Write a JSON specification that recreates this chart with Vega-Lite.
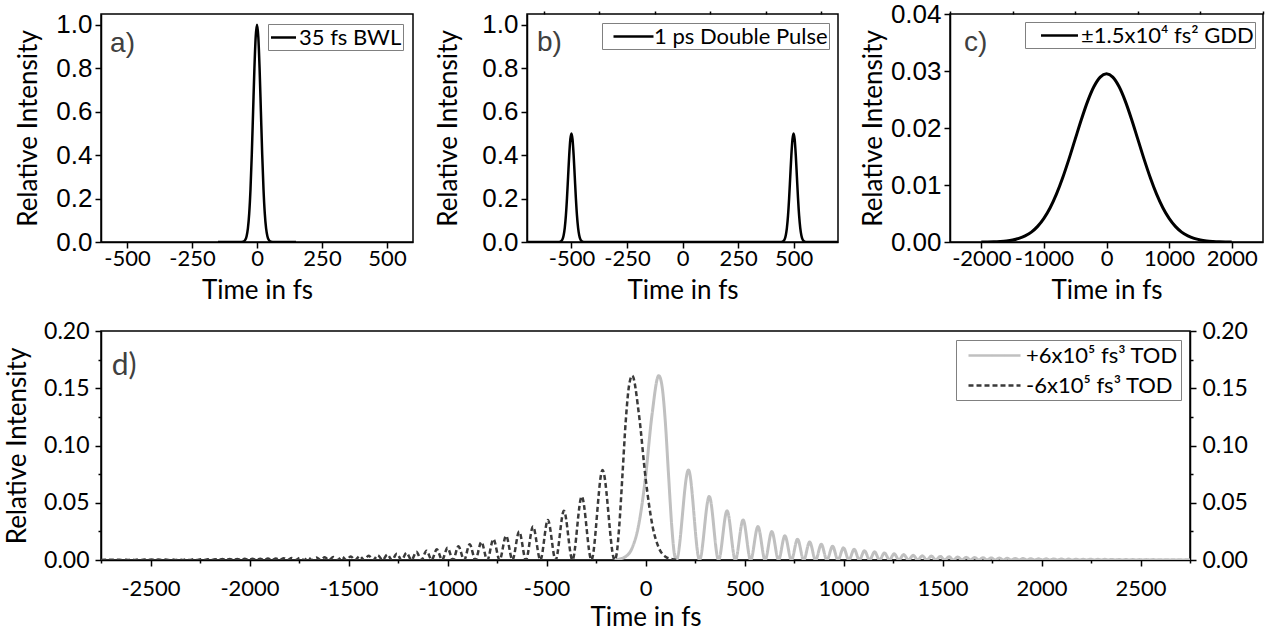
{
  "$schema": "https://vega.github.io/schema/vega-lite/v6.json",
  "background": "white",
  "padding": {"left": 3, "top": 0, "right": 4, "bottom": 4},
  "config": {
    "locale": {"number": {"decimal": ".", "thousands": "", "grouping": [3], "currency": ["", ""], "minus": "-"}},
    "view": {"stroke": "black", "strokeWidth": 1.5},
    "axis": {"domainColor": "black", "domainWidth": 1.5, "tickColor": "black", "tickWidth": 1.5, "labelColor": "black", "titleColor": "black", "titleFont": "Lato", "titleFontSize": 26, "titleFontWeight": "normal", "labelFont": "Lato", "labelFontSize": 22, "grid": false, "zindex": 1, "labelFlush": false, "labelOverlap": false},
    "legend": {"title": null, "strokeColor": "#808080", "fillColor": "white", "symbolStrokeWidth": 2.5, "symbolSize": 484, "labelFont": "Lato", "labelFontSize": 22, "labelColor": "black", "labelLimit": 400, "orient": "top-right"}
  },
  "resolve": {"scale": {"color": "independent", "strokeDash": "independent"}, "legend": {"color": "independent", "strokeDash": "independent"}},
  "datasets": {
    "bwl": [
      {"t": -150, "I": 0}, {"t": -100, "I": 0}, {"t": -80, "I": 0}, {"t": -70, "I": 0.00002}, {"t": -60, "I": 0.0003}, {"t": -55, "I": 0.001}, {"t": -50, "I": 0.0035}, {"t": -45, "I": 0.0102}, {"t": -40, "I": 0.0267}, {"t": -35, "I": 0.0625}, {"t": -30, "I": 0.1304}, {"t": -25, "I": 0.243}, {"t": -20, "I": 0.4044}, {"t": -15, "I": 0.601}, {"t": -10, "I": 0.7975}, {"t": -5, "I": 0.945}, {"t": 0, "I": 1},
      {"t": 5, "I": 0.945}, {"t": 10, "I": 0.7975}, {"t": 15, "I": 0.601}, {"t": 20, "I": 0.4044}, {"t": 25, "I": 0.243}, {"t": 30, "I": 0.1304}, {"t": 35, "I": 0.0625}, {"t": 40, "I": 0.0267}, {"t": 45, "I": 0.0102}, {"t": 50, "I": 0.0035}, {"t": 55, "I": 0.001}, {"t": 60, "I": 0.0003}, {"t": 70, "I": 0.00002}, {"t": 80, "I": 0}, {"t": 100, "I": 0}, {"t": 150, "I": 0}
    ],
    "dbl": [
      {"t": -700, "I": 0}, {"t": -600, "I": 0}, {"t": -570, "I": 0.00001}, {"t": -560, "I": 0.00015}, {"t": -555, "I": 0.0005}, {"t": -550, "I": 0.00175}, {"t": -545, "I": 0.0051}, {"t": -540, "I": 0.0134}, {"t": -535, "I": 0.0313}, {"t": -530, "I": 0.0652}, {"t": -525, "I": 0.1215}, {"t": -520, "I": 0.2022}, {"t": -515, "I": 0.3005}, {"t": -510, "I": 0.3988}, {"t": -505, "I": 0.4725}, {"t": -500, "I": 0.5},
      {"t": -495, "I": 0.4725}, {"t": -490, "I": 0.3988}, {"t": -485, "I": 0.3005}, {"t": -480, "I": 0.2022}, {"t": -475, "I": 0.1215}, {"t": -470, "I": 0.0652}, {"t": -465, "I": 0.0313}, {"t": -460, "I": 0.0134}, {"t": -455, "I": 0.0051}, {"t": -450, "I": 0.00175}, {"t": -445, "I": 0.0005}, {"t": -440, "I": 0.00015}, {"t": -430, "I": 0.00001}, {"t": -400, "I": 0},
      {"t": 400, "I": 0}, {"t": 430, "I": 0.00001}, {"t": 440, "I": 0.00015}, {"t": 445, "I": 0.0005}, {"t": 450, "I": 0.00175}, {"t": 455, "I": 0.0051}, {"t": 460, "I": 0.0134}, {"t": 465, "I": 0.0313}, {"t": 470, "I": 0.0652}, {"t": 475, "I": 0.1215}, {"t": 480, "I": 0.2022}, {"t": 485, "I": 0.3005}, {"t": 490, "I": 0.3988}, {"t": 495, "I": 0.4725}, {"t": 500, "I": 0.5},
      {"t": 505, "I": 0.4725}, {"t": 510, "I": 0.3988}, {"t": 515, "I": 0.3005}, {"t": 520, "I": 0.2022}, {"t": 525, "I": 0.1215}, {"t": 530, "I": 0.0652}, {"t": 535, "I": 0.0313}, {"t": 540, "I": 0.0134}, {"t": 545, "I": 0.0051}, {"t": 550, "I": 0.00175}, {"t": 555, "I": 0.0005}, {"t": 560, "I": 0.00015}, {"t": 570, "I": 0.00001}, {"t": 600, "I": 0}, {"t": 700, "I": 0}
    ],
    "gdd": [
      {"t": -2000, "I": 0}, {"t": -1900, "I": 0.00001}, {"t": -1800, "I": 0.00004}, {"t": -1700, "I": 0.0001}, {"t": -1600, "I": 0.00019}, {"t": -1500, "I": 0.00035}, {"t": -1400, "I": 0.00063}, {"t": -1300, "I": 0.00107}, {"t": -1200, "I": 0.00174}, {"t": -1100, "I": 0.00274}, {"t": -1000, "I": 0.00414}, {"t": -900, "I": 0.00601}, {"t": -800, "I": 0.00839}, {"t": -700, "I": 0.01127}, {"t": -600, "I": 0.01454}, {"t": -500, "I": 0.01805}, {"t": -400, "I": 0.02154}, {"t": -300, "I": 0.02472}, {"t": -200, "I": 0.02727}, {"t": -100, "I": 0.02893}, {"t": 0, "I": 0.0295},
      {"t": 100, "I": 0.02893}, {"t": 200, "I": 0.02727}, {"t": 300, "I": 0.02472}, {"t": 400, "I": 0.02154}, {"t": 500, "I": 0.01805}, {"t": 600, "I": 0.01454}, {"t": 700, "I": 0.01127}, {"t": 800, "I": 0.00839}, {"t": 900, "I": 0.00601}, {"t": 1000, "I": 0.00414}, {"t": 1100, "I": 0.00274}, {"t": 1200, "I": 0.00174}, {"t": 1300, "I": 0.00107}, {"t": 1400, "I": 0.00063}, {"t": 1500, "I": 0.00035}, {"t": 1600, "I": 0.00019}, {"t": 1700, "I": 0.0001}, {"t": 1800, "I": 0.00004}, {"t": 1900, "I": 0.00001}, {"t": 2000, "I": 0}
    ],
    "todp": [
      {"t": -160, "I": 0}, {"t": -135, "I": 0.0007}, {"t": -101, "I": 0.0029}, {"t": -68, "I": 0.0103}, {"t": -35, "I": 0.0301}, {"t": -1, "I": 0.0707}, {"t": 33, "I": 0.127}, {"t": 67, "I": 0.161}, {"t": 83, "I": 0.1524}, {"t": 100, "I": 0.1209}, {"t": 116, "I": 0.0754}, {"t": 133, "I": 0.0287}, {"t": 146, "I": 0.005}, {"t": 156, "I": 0},
      {"t": 217, "I": 0.0786}, {"t": 273, "I": 0}, {"t": 322, "I": 0.0555}, {"t": 369, "I": 0}, {"t": 412, "I": 0.043}, {"t": 454, "I": 0}, {"t": 493, "I": 0.035}, {"t": 531, "I": 0}, {"t": 568, "I": 0.0292}, {"t": 604, "I": 0}, {"t": 638, "I": 0.0248}, {"t": 672, "I": 0}, {"t": 704, "I": 0.0212}, {"t": 737, "I": 0}, {"t": 768, "I": 0.0182}, {"t": 799, "I": 0}, {"t": 829, "I": 0.0157}, {"t": 859, "I": 0}, {"t": 888, "I": 0.0137}, {"t": 916, "I": 0}, {"t": 945, "I": 0.012}, {"t": 972, "I": 0}, {"t": 1000, "I": 0.0106}, {"t": 1027, "I": 0}, {"t": 1054, "I": 0.0093}, {"t": 1080, "I": 0}, {"t": 1106, "I": 0.0081}, {"t": 1132, "I": 0}, {"t": 1157, "I": 0.0071}, {"t": 1182, "I": 0}, {"t": 1207, "I": 0.0062}, {"t": 1232, "I": 0}, {"t": 1256, "I": 0.0054}, {"t": 1280, "I": 0}, {"t": 1304, "I": 0.0047}, {"t": 1328, "I": 0}, {"t": 1352, "I": 0.0041}, {"t": 1375, "I": 0},
      {"t": 1398, "I": 0.0037}, {"t": 1421, "I": 0}, {"t": 1444, "I": 0.0034}, {"t": 1466, "I": 0}, {"t": 1489, "I": 0.0031}, {"t": 1511, "I": 0}, {"t": 1533, "I": 0.0028}, {"t": 1555, "I": 0}, {"t": 1577, "I": 0.0026}, {"t": 1599, "I": 0}, {"t": 1620, "I": 0.0023}, {"t": 1641, "I": 0}, {"t": 1662, "I": 0.0021}, {"t": 1684, "I": 0}, {"t": 1704, "I": 0.002}, {"t": 1725, "I": 0}, {"t": 1746, "I": 0.0018}, {"t": 1766, "I": 0}, {"t": 1787, "I": 0.0017}, {"t": 1807, "I": 0}, {"t": 1827, "I": 0.0015}, {"t": 1847, "I": 0}, {"t": 1867, "I": 0.0014}, {"t": 1887, "I": 0}, {"t": 1907, "I": 0.0013}, {"t": 1927, "I": 0}, {"t": 1946, "I": 0.0012}, {"t": 1966, "I": 0}, {"t": 1985, "I": 0.0011}, {"t": 2005, "I": 0},
      {"t": 2024, "I": 0.001}, {"t": 2043, "I": 0}, {"t": 2062, "I": 0.00094}, {"t": 2081, "I": 0}, {"t": 2100, "I": 0.00087}, {"t": 2118, "I": 0}, {"t": 2137, "I": 0.0008}, {"t": 2156, "I": 0}, {"t": 2174, "I": 0.00075}, {"t": 2193, "I": 0}, {"t": 2211, "I": 0.00069}, {"t": 2229, "I": 0}, {"t": 2247, "I": 0.00064}, {"t": 2266, "I": 0}, {"t": 2284, "I": 0.0006}, {"t": 2302, "I": 0}, {"t": 2320, "I": 0.00056}, {"t": 2337, "I": 0}, {"t": 2355, "I": 0.00052}, {"t": 2373, "I": 0}, {"t": 2390, "I": 0.00048}, {"t": 2408, "I": 0}, {"t": 2426, "I": 0.00045}, {"t": 2443, "I": 0}, {"t": 2460, "I": 0.00042}, {"t": 2478, "I": 0}, {"t": 2495, "I": 0.00039}, {"t": 2512, "I": 0}, {"t": 2529, "I": 0.00037}, {"t": 2547, "I": 0}, {"t": 2563, "I": 0.00034}, {"t": 2581, "I": 0}, {"t": 2597, "I": 0.00032}, {"t": 2614, "I": 0}, {"t": 2631, "I": 0.0003}, {"t": 2648, "I": 0}, {"t": 2665, "I": 0.00028}, {"t": 2681, "I": 0}, {"t": 2698, "I": 0.00026}, {"t": 2715, "I": 0}, {"t": 2731, "I": 0.00024}, {"t": 2750, "I": 0.0001}
    ],
    "todn": [
      {"t": -2750, "I": 0.0001}, {"t": -2731, "I": 0.00024}, {"t": -2715, "I": 0}, {"t": -2698, "I": 0.00026}, {"t": -2681, "I": 0}, {"t": -2665, "I": 0.00028}, {"t": -2648, "I": 0}, {"t": -2631, "I": 0.0003}, {"t": -2614, "I": 0}, {"t": -2597, "I": 0.00032}, {"t": -2581, "I": 0}, {"t": -2563, "I": 0.00034}, {"t": -2547, "I": 0}, {"t": -2529, "I": 0.00037}, {"t": -2512, "I": 0}, {"t": -2495, "I": 0.00039}, {"t": -2478, "I": 0}, {"t": -2460, "I": 0.00042}, {"t": -2443, "I": 0}, {"t": -2426, "I": 0.00045}, {"t": -2408, "I": 0}, {"t": -2390, "I": 0.00048}, {"t": -2373, "I": 0}, {"t": -2355, "I": 0.00052}, {"t": -2337, "I": 0}, {"t": -2320, "I": 0.00056}, {"t": -2302, "I": 0}, {"t": -2284, "I": 0.0006}, {"t": -2266, "I": 0}, {"t": -2247, "I": 0.00064}, {"t": -2229, "I": 0}, {"t": -2211, "I": 0.00069}, {"t": -2193, "I": 0}, {"t": -2174, "I": 0.00075}, {"t": -2156, "I": 0}, {"t": -2137, "I": 0.0008}, {"t": -2118, "I": 0}, {"t": -2100, "I": 0.00087}, {"t": -2081, "I": 0}, {"t": -2062, "I": 0.00094}, {"t": -2043, "I": 0}, {"t": -2024, "I": 0.001},
      {"t": -2005, "I": 0}, {"t": -1985, "I": 0.0011}, {"t": -1966, "I": 0}, {"t": -1946, "I": 0.0012}, {"t": -1927, "I": 0}, {"t": -1907, "I": 0.0013}, {"t": -1887, "I": 0}, {"t": -1867, "I": 0.0014}, {"t": -1847, "I": 0}, {"t": -1827, "I": 0.0015}, {"t": -1807, "I": 0}, {"t": -1787, "I": 0.0017}, {"t": -1766, "I": 0}, {"t": -1746, "I": 0.0018}, {"t": -1725, "I": 0}, {"t": -1704, "I": 0.002}, {"t": -1684, "I": 0}, {"t": -1662, "I": 0.0021}, {"t": -1641, "I": 0}, {"t": -1620, "I": 0.0023}, {"t": -1599, "I": 0}, {"t": -1577, "I": 0.0026}, {"t": -1555, "I": 0}, {"t": -1533, "I": 0.0028}, {"t": -1511, "I": 0}, {"t": -1489, "I": 0.0031}, {"t": -1466, "I": 0}, {"t": -1444, "I": 0.0034}, {"t": -1421, "I": 0}, {"t": -1398, "I": 0.0037},
      {"t": -1375, "I": 0}, {"t": -1352, "I": 0.0041}, {"t": -1328, "I": 0}, {"t": -1304, "I": 0.0047}, {"t": -1280, "I": 0}, {"t": -1256, "I": 0.0054}, {"t": -1232, "I": 0}, {"t": -1207, "I": 0.0062}, {"t": -1182, "I": 0}, {"t": -1157, "I": 0.0071}, {"t": -1132, "I": 0}, {"t": -1106, "I": 0.0081}, {"t": -1080, "I": 0}, {"t": -1054, "I": 0.0093}, {"t": -1027, "I": 0}, {"t": -1000, "I": 0.0106}, {"t": -972, "I": 0}, {"t": -945, "I": 0.012}, {"t": -916, "I": 0}, {"t": -888, "I": 0.0137}, {"t": -859, "I": 0}, {"t": -829, "I": 0.0157}, {"t": -799, "I": 0}, {"t": -768, "I": 0.0182}, {"t": -737, "I": 0}, {"t": -704, "I": 0.0212}, {"t": -672, "I": 0}, {"t": -638, "I": 0.0248}, {"t": -604, "I": 0}, {"t": -568, "I": 0.0292}, {"t": -531, "I": 0}, {"t": -493, "I": 0.035}, {"t": -454, "I": 0}, {"t": -412, "I": 0.043}, {"t": -369, "I": 0}, {"t": -322, "I": 0.0555}, {"t": -273, "I": 0}, {"t": -217, "I": 0.0786},
      {"t": -156, "I": 0}, {"t": -146, "I": 0.005}, {"t": -133, "I": 0.0287}, {"t": -116, "I": 0.0754}, {"t": -100, "I": 0.1209}, {"t": -83, "I": 0.1524}, {"t": -67, "I": 0.161}, {"t": -33, "I": 0.127}, {"t": 1, "I": 0.0707}, {"t": 35, "I": 0.0301}, {"t": 68, "I": 0.0103}, {"t": 101, "I": 0.0029}, {"t": 135, "I": 0.0007}, {"t": 160, "I": 0}
    ]
  },
  "spacing": 15,
  "vconcat": [
    {
      "resolve": {"scale": {"color": "independent"}, "legend": {"color": "independent"}},
      "spacing": 20,
      "hconcat": [
        {
          "width": 312, "height": 228,
          "layer": [
            {
              "data": {"name": "bwl"},
              "mark": {"type": "line", "interpolate": "monotone", "strokeWidth": 2.5, "clip": true},
              "encoding": {
                "x": {"field": "t", "type": "quantitative", "scale": {"domain": [-600, 600], "nice": false},
                  "axis": {"title": "Time in fs", "values": [-500, -375, -250, -125, 0, 125, 250, 375, 500], "labelExpr": "datum.value % 250 === 0 ? (datum.value < 0 ? '-' + abs(datum.value) : '' + datum.value) : ''", "tickSize": {"condition": {"test": "datum.value % 250 === 0", "value": 6}, "value": 3}, "labelPadding": 0, "titlePadding": 8}},
                "y": {"field": "I", "type": "quantitative", "scale": {"domain": [0, 1.05], "nice": false},
                  "axis": {"title": "Relative Intensity", "values": [0, 0.1, 0.2, 0.3, 0.4, 0.5, 0.6, 0.7, 0.8, 0.9, 1.0], "format": ".1f", "labelExpr": "round(datum.value*10) % 2 === 0 ? datum.label : ''", "tickSize": {"condition": {"test": "round(datum.value*10) % 2 === 0", "value": 6}, "value": 3}, "labelFont": "Liberation Sans", "labelFontSize": 26, "labelPadding": 3, "minExtent": 46, "maxExtent": 46, "titlePadding": 14}},
                "color": {"datum": "35 fs BWL", "type": "nominal", "scale": {"domain": ["35 fs BWL"], "range": ["black"]},
                  "legend": {"offset": 10, "padding": 1, "symbolType": "M-1.136,0H1.136", "symbolOffset": 2, "labelOffset": 3}}
              }
            },
            {
              "data": {"values": [{"label": "a)", "t": -565, "I": 0.875}]},
              "mark": {"type": "text", "align": "left", "baseline": "alphabetic", "font": "Liberation Sans", "fontSize": 28, "color": "#404040"},
              "encoding": {"x": {"field": "t", "type": "quantitative", "title": "Time in fs"}, "y": {"field": "I", "type": "quantitative", "title": "Relative Intensity"}, "text": {"field": "label"}}
            }
          ]
        },
        {
          "width": 311, "height": 228,
          "resolve": {"axis": {"x": "independent"}},
          "layer": [
            {
              "data": {"name": "dbl"},
              "mark": {"type": "line", "interpolate": "monotone", "strokeWidth": 2.5, "clip": true},
              "encoding": {
                "x": {"field": "t", "type": "quantitative", "scale": {"domain": [-700, 700], "nice": false},
                  "axis": {"title": "Time in fs", "values": [-500, -250, 0, 250, 500], "format": "d", "tickSize": 6, "labelPadding": 0, "titlePadding": 8}},
                "y": {"field": "I", "type": "quantitative", "scale": {"domain": [0, 1.05], "nice": false},
                  "axis": {"title": "Relative Intensity", "values": [0, 0.1, 0.2, 0.3, 0.4, 0.5, 0.6, 0.7, 0.8, 0.9, 1.0], "format": ".1f", "labelExpr": "round(datum.value*10) % 2 === 0 ? datum.label : ''", "tickSize": {"condition": {"test": "round(datum.value*10) % 2 === 0", "value": 6}, "value": 3}, "labelFont": "Liberation Sans", "labelFontSize": 26, "labelPadding": 3, "minExtent": 46, "maxExtent": 46, "titlePadding": 20}},
                "color": {"datum": "1 ps Double Pulse", "type": "nominal", "scale": {"domain": ["1 ps Double Pulse"], "range": ["black"]},
                  "legend": {"offset": 9, "padding": 1, "symbolType": "M-1.818,0H1.818", "symbolOffset": 18, "labelOffset": 8}}
              }
            },
            {
              "data": {"values": [{"label": "b)", "t": -655, "I": 0.88}]},
              "mark": {"type": "text", "align": "left", "baseline": "alphabetic", "font": "Liberation Sans", "fontSize": 28, "color": "#404040"},
              "encoding": {
                "x": {"field": "t", "type": "quantitative", "axis": {"title": null, "values": [-625, -375, -125, 125, 375, 625], "labels": false, "domain": false, "tickSize": 3}},
                "y": {"field": "I", "type": "quantitative", "title": "Relative Intensity"}, "text": {"field": "label"}}
            }
          ]
        },
        {
          "width": 313, "height": 228,
          "resolve": {"axis": {"x": "independent"}},
          "layer": [
            {
              "data": {"name": "gdd"},
              "mark": {"type": "line", "interpolate": "monotone", "strokeWidth": 3, "clip": true},
              "encoding": {
                "x": {"field": "t", "type": "quantitative", "scale": {"domain": [-2500, 2500], "nice": false},
                  "axis": {"title": "Time in fs", "values": [-2000, -1000, 0, 1000, 2000], "format": "d", "tickSize": 6, "labelPadding": 0, "titlePadding": 8}},
                "y": {"field": "I", "type": "quantitative", "scale": {"domain": [0, 0.04], "nice": false},
                  "axis": {"title": "Relative Intensity", "values": [0, 0.005, 0.01, 0.015, 0.02, 0.025, 0.03, 0.035, 0.04], "format": ".2f", "labelExpr": "round(datum.value*1000) % 10 === 0 ? datum.label : ''", "tickSize": {"condition": {"test": "round(datum.value*1000) % 10 === 0", "value": 6}, "value": 3}, "labelFont": "Liberation Sans", "labelFontSize": 26, "labelPadding": 3, "minExtent": 60, "maxExtent": 60, "titlePadding": 4}},
                "color": {"datum": "±1.5x10⁴ fs² GDD", "type": "nominal", "scale": {"domain": ["±1.5x10⁴ fs² GDD"], "range": ["black"]},
                  "legend": {"offset": 8, "padding": 1, "symbolType": "M-1.68,0H1.68", "symbolOffset": 21, "labelOffset": 9}}
              }
            },
            {
              "data": {"values": [{"label": "c)", "t": -2276, "I": 0.0335}]},
              "mark": {"type": "text", "align": "left", "baseline": "alphabetic", "font": "Liberation Sans", "fontSize": 28, "color": "#404040"},
              "encoding": {
                "x": {"field": "t", "type": "quantitative", "axis": {"title": null, "values": [-2500, -1500, -500, 500, 1500, 2500], "labels": false, "domain": false, "tickSize": 3}},
                "y": {"field": "I", "type": "quantitative", "title": "Relative Intensity"}, "text": {"field": "label"}}
            }
          ]
        }
      ]
    },
    {
      "resolve": {"scale": {"color": "independent", "strokeDash": "independent"}, "legend": {"color": "independent", "strokeDash": "independent"}},
      "hconcat": [
        {
          "width": 1089, "height": 229,
          "resolve": {"axis": {"y": "independent"}},
          "layer": [
            {
              "data": {"name": "todp"},
              "mark": {"type": "line", "interpolate": "monotone", "strokeWidth": 3, "clip": true},
              "encoding": {
                "x": {"field": "t", "type": "quantitative", "scale": {"domain": [-2750, 2750], "nice": false},
                  "axis": {"title": "Time in fs", "values": [-2750, -2500, -2250, -2000, -1750, -1500, -1250, -1000, -750, -500, -250, 0, 250, 500, 750, 1000, 1250, 1500, 1750, 2000, 2250, 2500, 2750], "labelExpr": "datum.value % 500 === 0 && abs(datum.value) < 2700 ? (datum.value < 0 ? '-' + abs(datum.value) : '' + datum.value) : ''", "tickSize": {"condition": {"test": "datum.value % 500 === 0", "value": 6}, "value": 3}, "labelPadding": 12, "titlePadding": 5}},
                "y": {"field": "I", "type": "quantitative", "scale": {"domain": [0, 0.2], "nice": false},
                  "axis": {"title": "Relative Intensity", "values": [0, 0.025, 0.05, 0.075, 0.1, 0.125, 0.15, 0.175, 0.2], "format": ".2f", "labelExpr": "round(datum.value*1000) % 50 === 0 ? datum.label : ''", "tickSize": {"condition": {"test": "round(datum.value*1000) % 50 === 0", "value": 6}, "value": 3}, "labelFontSize": 23, "labelPadding": 6, "minExtent": 60, "maxExtent": 60, "titlePadding": 11}},
                "color": {"datum": "+6x10⁵ fs³ TOD", "type": "nominal", "scale": {"domain": ["+6x10⁵ fs³ TOD", "-6x10⁵ fs³ TOD"], "range": ["#c0c0c0", "#3a3a3a"]},
                  "legend": {"offset": 9, "padding": 3, "symbolType": "M-2.364,0H2.364", "symbolOffset": 23, "labelOffset": 19, "rowPadding": 6}},
                "strokeDash": {"datum": "+6x10⁵ fs³ TOD", "type": "nominal", "scale": {"domain": ["+6x10⁵ fs³ TOD", "-6x10⁵ fs³ TOD"], "range": [[1, 0], [5, 3]]},
                  "legend": {"offset": 9, "padding": 3, "symbolType": "M-2.364,0H2.364", "symbolOffset": 23, "labelOffset": 19, "rowPadding": 6}}
              }
            },
            {
              "data": {"name": "todn"},
              "mark": {"type": "line", "interpolate": "monotone", "strokeWidth": 2.5, "clip": true},
              "encoding": {
                "x": {"field": "t", "type": "quantitative", "title": "Time in fs"},
                "y": {"field": "I", "type": "quantitative",
                  "axis": {"orient": "right", "title": null, "values": [0, 0.025, 0.05, 0.075, 0.1, 0.125, 0.15, 0.175, 0.2], "format": ".2f", "labelExpr": "round(datum.value*1000) % 50 === 0 ? datum.label : ''", "tickSize": {"condition": {"test": "round(datum.value*1000) % 50 === 0", "value": 6}, "value": 3}, "labelFontSize": 23, "labelPadding": 6}},
                "color": {"datum": "-6x10⁵ fs³ TOD", "type": "nominal", "scale": {"domain": ["+6x10⁵ fs³ TOD", "-6x10⁵ fs³ TOD"], "range": ["#c0c0c0", "#3a3a3a"]}},
                "strokeDash": {"datum": "-6x10⁵ fs³ TOD", "type": "nominal", "scale": {"domain": ["+6x10⁵ fs³ TOD", "-6x10⁵ fs³ TOD"], "range": [[1, 0], [5, 3]]}}
              }
            },
            {
              "data": {"values": [{"label": "d)", "t": -2696, "I": 0.162}]},
              "mark": {"type": "text", "align": "left", "baseline": "alphabetic", "font": "Lato", "fontSize": 30, "color": "#404040"},
              "encoding": {"x": {"field": "t", "type": "quantitative", "title": "Time in fs"}, "y": {"field": "I", "type": "quantitative", "axis": null}, "text": {"field": "label"}}
            }
          ]
        }
      ]
    }
  ]
}
